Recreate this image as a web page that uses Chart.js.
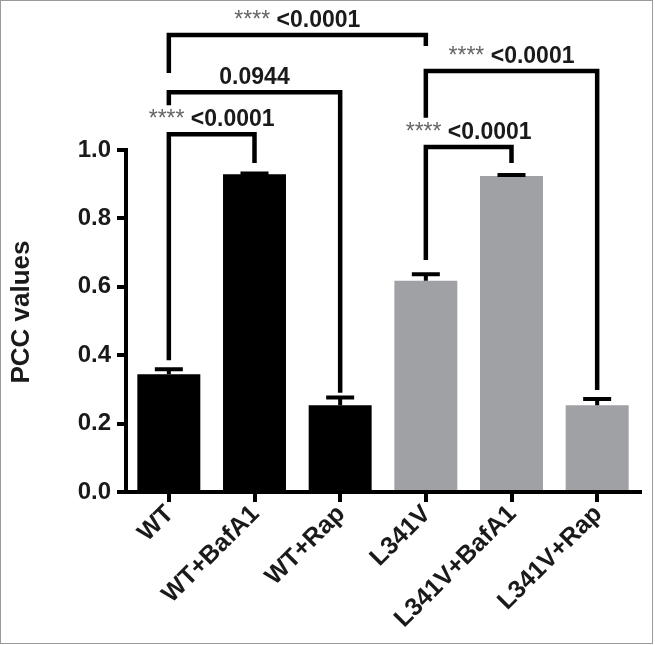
<!DOCTYPE html>
<html>
<head>
<meta charset="utf-8">
<script src="https://cdn.jsdelivr.net/npm/chart.js@4"></script>
<style>
  html, body { margin: 0; padding: 0; background: #fff; }
  #wrap { position: relative; width: 655px; height: 645px; }
  #frame { position: absolute; left: 0; top: 0; width: 651px; height: 642px; border: 1px solid #9a9a9a; pointer-events: none; }
</style>
</head>
<body>
<div id="wrap">
  <canvas id="chart" width="655" height="645"></canvas>
  <div id="frame"></div>
</div>
<script>
const groups = ['WT', 'WT+BafA1', 'WT+Rap', 'L341V', 'L341V+BafA1', 'L341V+Rap'];
const means = [0.344, 0.929, 0.254, 0.618, 0.924, 0.254];
const errors = [0.015, 0.002, 0.022, 0.019, 0.003, 0.018];
const barColors = ['#000000', '#000000', '#000000', '#a0a1a5', '#a0a1a5', '#a0a1a5'];
const yTicks = [0, 0.2, 0.4, 0.6, 0.8, 1.0];
const yTitle = 'PCC values';

// significance brackets (heights in PCC units)
const cmpFrom = [0, 0, 0, 3, 3];
const cmpTo = [1, 2, 3, 4, 5];
const cmpHeight = [1.046, 1.169, 1.336, 1.009, 1.231];
const cmpLeftEnd = [0.385, 1.131, 1.225, 0.678, 1.094];
const cmpRightEnd = [0.962, 0.29, 1.304, 0.962, 0.298];
const cmpStars = ['****', '', '****', '****', '****'];
const cmpP = ['<0.0001', '0.0944', '<0.0001', '<0.0001', '<0.0001'];

const FONT = 'Arial, "Liberation Sans", sans-serif';

const errorBars = {
  id: 'errorBars',
  afterDatasetsDraw(chart) {
    const ctx = chart.ctx;
    const y = chart.scales.y;
    const meta = chart.getDatasetMeta(0);
    ctx.save();
    ctx.strokeStyle = '#000';
    ctx.lineWidth = 4;
    meta.data.forEach((bar, i) => {
      const yTop = y.getPixelForValue(means[i] + errors[i]);
      const yBar = y.getPixelForValue(means[i]);
      ctx.beginPath();
      ctx.moveTo(bar.x, yBar);
      ctx.lineTo(bar.x, yTop);
      ctx.moveTo(bar.x - 14, yTop);
      ctx.lineTo(bar.x + 14, yTop);
      ctx.stroke();
    });
    ctx.restore();
  }
};

// x labels at a fixed 45 degrees, hung from the axis ticks
const slantLabels = {
  id: 'slantLabels',
  afterDraw(chart) {
    const ctx = chart.ctx;
    const x = chart.scales.x;
    ctx.save();
    ctx.font = 'bold 25px ' + FONT;
    ctx.fillStyle = '#1a1a1a';
    ctx.textAlign = 'right';
    ctx.textBaseline = 'middle';
    groups.forEach((g, i) => {
      ctx.save();
      ctx.translate(x.getPixelForTick(i) + 1, x.top + 18);
      ctx.rotate(-Math.PI / 4);
      ctx.fillText(g, 0, 0);
      ctx.restore();
    });
    ctx.restore();
  }
};

const brackets = {
  id: 'brackets',
  afterDraw(chart) {
    const ctx = chart.ctx;
    const x = chart.scales.x;
    const y = chart.scales.y;
    ctx.save();
    ctx.strokeStyle = '#000';
    ctx.lineWidth = 4.5;
    ctx.lineJoin = 'miter';
    cmpFrom.forEach((from, k) => {
      const x1 = x.getPixelForValue(from);
      const x2 = x.getPixelForValue(cmpTo[k]);
      const yh = y.getPixelForValue(cmpHeight[k]);
      ctx.beginPath();
      ctx.moveTo(x1, y.getPixelForValue(cmpLeftEnd[k]));
      ctx.lineTo(x1, yh);
      ctx.lineTo(x2, yh);
      ctx.lineTo(x2, y.getPixelForValue(cmpRightEnd[k]));
      ctx.stroke();

      // label: small grey stars + bold p value
      const starFont = '23px ' + FONT;
      const pFont = 'bold 23px ' + FONT;
      ctx.font = starFont;
      const sw = cmpStars[k] ? ctx.measureText(cmpStars[k] + ' ').width : 0;
      ctx.font = pFont;
      const pw = ctx.measureText(cmpP[k]).width;
      const sx = (x1 + x2) / 2 - (sw + pw) / 2;
      const by = yh - 8;
      ctx.textBaseline = 'alphabetic';
      ctx.textAlign = 'left';
      if (cmpStars[k]) {
        ctx.font = starFont;
        ctx.fillStyle = '#666';
        ctx.fillText(cmpStars[k], sx, by);
      }
      ctx.font = pFont;
      ctx.fillStyle = '#1a1a1a';
      ctx.fillText(cmpP[k], sx + sw, by);
    });

    // y axis title
    ctx.translate(22, 312);
    ctx.rotate(-Math.PI / 2);
    ctx.font = 'bold 26px ' + FONT;
    ctx.fillStyle = '#1a1a1a';
    ctx.textAlign = 'center';
    ctx.textBaseline = 'middle';
    ctx.fillText(yTitle, 0, 0);
    ctx.restore();
  }
};

const ctx = document.getElementById('chart').getContext('2d');
new Chart(ctx, {
  type: 'bar',
  data: {
    labels: groups,
    datasets: [{
      data: means,
      backgroundColor: barColors,
      borderWidth: 0,
      barPercentage: 0.735,
      categoryPercentage: 1
    }]
  },
  options: {
    responsive: false,
    animation: false,
    devicePixelRatio: 1,
    layout: { padding: { top: 150, right: 15, bottom: 0, left: 0 } },
    plugins: { legend: { display: false }, tooltip: { enabled: false } },
    scales: {
      x: {
        offset: true,
        grid: { offset: false, drawOnChartArea: false, tickLength: 10, lineWidth: 4, color: '#000' },
        border: { width: 4, color: '#000' },
        ticks: { display: false },
        afterFit: s => { s.height = 153; }
      },
      y: {
        min: 0, max: 1,
        afterBuildTicks: s => { s.ticks = yTicks.map(v => ({ value: v })); },
        grid: { drawOnChartArea: false, tickLength: 9, lineWidth: 4, color: '#000' },
        border: { width: 4, color: '#000' },
        ticks: {
          padding: 6, color: '#1a1a1a',
          font: { family: FONT, size: 24, weight: 'bold' },
          callback: v => Number(v).toFixed(1)
        },
        afterFit: s => { s.width = 126; }
      }
    }
  },
  plugins: [errorBars, slantLabels, brackets]
});
</script>
</body>
</html>
